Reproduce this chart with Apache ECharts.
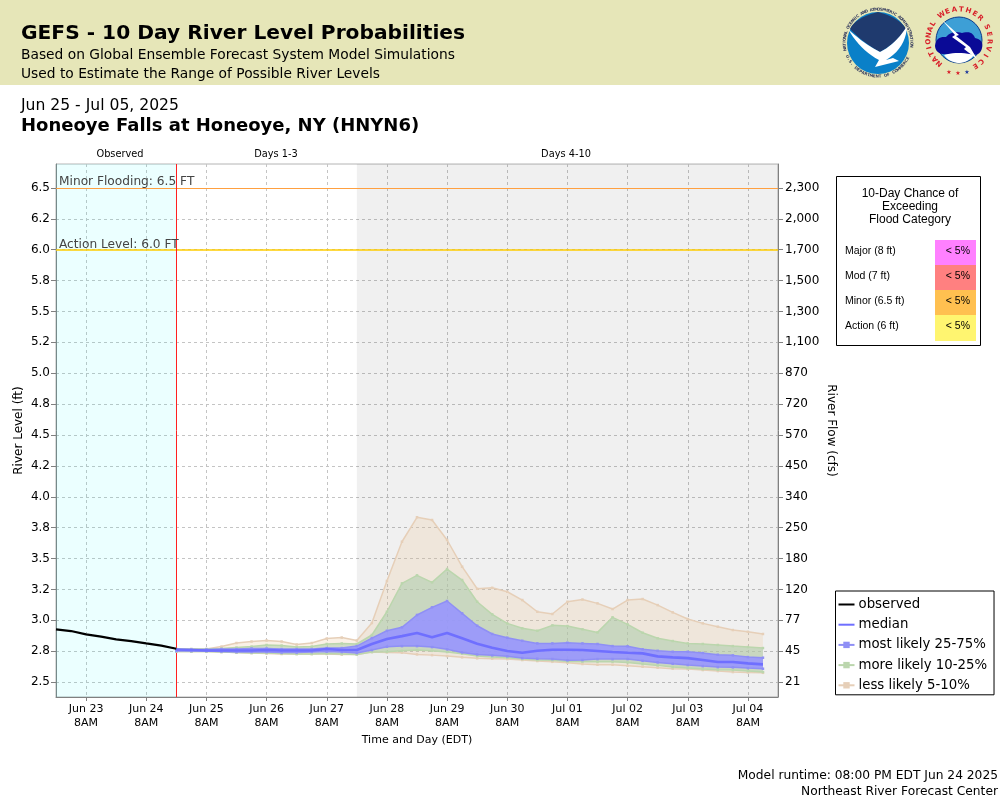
<![CDATA[<!DOCTYPE html>
<html>
<head>
<meta charset="utf-8">
<style>html,body{margin:0;padding:0;background:#fff}#c{width:1000px;height:800px}</style>
<script src="https://cdn.jsdelivr.net/npm/echarts@6/dist/echarts.min.js"></script>
</head>
<body>
<div id="c"></div>
<script>
// ---------- data (feet), read off the picture ----------
const levelTicks = [2.5,2.75,3,3.25,3.5,3.75,4,4.25,4.5,4.75,5,5.25,5.5,5.75,6,6.25,6.5];
const levelLabels = ["2.5","2.8","3.0","3.2","3.5","3.8","4.0","4.2","4.5","4.8","5.0","5.2","5.5","5.8","6.0","6.2","6.5"];
const flowLabels = ["21","45","77","120","180","250","340","450","570","720","870","1,100","1,300","1,500","1,700","2,000","2,300"];
const dayLabels = ["Jun 23","Jun 24","Jun 25","Jun 26","Jun 27","Jun 28","Jun 29","Jun 30","Jul 01","Jul 02","Jul 03","Jul 04"];
const observed = [2.927,2.913,2.886,2.868,2.846,2.832,2.813,2.795,2.770];
const median = [2.763,2.759,2.755,2.755,2.755,2.755,2.759,2.755,2.755,2.755,2.767,2.759,2.759,2.808,2.848,2.872,2.897,2.862,2.897,2.854,2.810,2.778,2.751,2.737,2.753,2.761,2.761,2.759,2.751,2.743,2.737,2.732,2.708,2.700,2.694,2.678,2.662,2.662,2.651,2.643];
const p75 = [2.763,2.763,2.763,2.767,2.767,2.771,2.771,2.767,2.767,2.767,2.775,2.775,2.791,2.856,2.915,2.943,3.043,3.105,3.156,3.056,2.956,2.889,2.859,2.834,2.813,2.813,2.818,2.813,2.808,2.791,2.789,2.765,2.753,2.745,2.745,2.735,2.721,2.716,2.702,2.697];
const p25 = [2.751,2.751,2.751,2.747,2.743,2.743,2.743,2.739,2.739,2.743,2.747,2.743,2.735,2.759,2.786,2.791,2.791,2.783,2.765,2.740,2.724,2.716,2.708,2.694,2.689,2.686,2.676,2.678,2.686,2.686,2.686,2.672,2.659,2.648,2.638,2.629,2.621,2.619,2.613,2.608];
const p90 = [2.767,2.767,2.767,2.771,2.779,2.787,2.800,2.795,2.783,2.787,2.808,2.812,2.808,2.881,3.069,3.299,3.364,3.307,3.415,3.326,3.150,3.048,2.975,2.935,2.915,2.959,2.953,2.927,2.902,3.024,2.967,2.899,2.854,2.832,2.813,2.808,2.800,2.791,2.783,2.775];
const p10 = [2.747,2.747,2.747,2.743,2.739,2.735,2.735,2.731,2.727,2.727,2.731,2.727,2.723,2.743,2.745,2.753,2.759,2.753,2.743,2.729,2.710,2.702,2.697,2.686,2.678,2.676,2.667,2.664,2.664,2.664,2.659,2.646,2.635,2.621,2.613,2.605,2.599,2.597,2.589,2.581];
const p95 = [2.767,2.767,2.767,2.787,2.816,2.828,2.836,2.828,2.804,2.816,2.852,2.860,2.836,2.978,3.318,3.636,3.834,3.812,3.650,3.434,3.255,3.263,3.231,3.164,3.069,3.051,3.150,3.168,3.137,3.091,3.164,3.172,3.123,3.064,3.010,2.975,2.948,2.921,2.907,2.889];
const p5 = [2.747,2.747,2.747,2.743,2.739,2.735,2.731,2.727,2.727,2.727,2.727,2.723,2.723,2.743,2.740,2.737,2.724,2.718,2.710,2.700,2.692,2.689,2.686,2.678,2.670,2.664,2.656,2.646,2.640,2.640,2.632,2.624,2.616,2.608,2.605,2.597,2.589,2.581,2.578,2.575];
const floodNames = ["Major (8 ft)","Mod (7 ft)","Minor (6.5 ft)","Action (6 ft)"];
const floodChance = ["< 5%","< 5%","< 5%","< 5%"];
const floodColors = ["#ff80ff","#ff8080","#ffc050","#fff570"];
const minorLevel = 6.5, actionLevel = 6.0;

// ---------- time helpers ----------
const H = 3600e3;
const tStart = new Date(2025,5,22,20).getTime();
const tNow = new Date(2025,5,24,20).getTime();
const tGray = new Date(2025,5,27,20).getTime();
const tEnd = new Date(2025,6,4,20).getTime();
const tFirstTick = new Date(2025,5,23,8).getTime();
const obsT = observed.map((_,i)=>tStart+i*6*H);
const fcT = median.map((_,i)=>tNow+i*6*H);
const xTicks = dayLabels.map((_,i)=>tFirstTick+i*24*H);
const pts = a => a.map((v,i)=>[fcT[i],v]);

const FONT = 'DejaVu Sans';
const edge = (name,vals,color,z)=>({type:'line',name,data:pts(vals),symbol:'rect',symbolSize:2.5,showSymbol:true,
  showAllSymbol:true,z,lineStyle:{color,width:1.5},itemStyle:{color},emphasis:{disabled:true},animation:false});
const fill = (name,lo,hi,color,z)=>({type:'custom',name,z,silent:true,clip:true,
  data:lo.map((v,i)=>[fcT[i],v,hi[i]]),encode:{x:0,y:[1,2]},
  renderItem(params,api){
    if(params.dataIndex!==0) return null;
    const up=hi.map((v,i)=>api.coord([fcT[i],v]));
    const dn=lo.map((v,i)=>api.coord([fcT[i],v])).reverse();
    return {type:'polygon',shape:{points:up.concat(dn)},style:{fill:color,stroke:null}};
  }});

const L = {less:'less likely 5-10%',more:'more likely 10-25%',most:'most likely 25-75%'};
const C = {less:'#e6cfb8',more:'#bbd6ad',most:'#8f8ff5'};

const series = [
  {type:'line',name:'bg',data:[],silent:true,z:1,
   markArea:{silent:true,itemStyle:{color:'rgba(0,255,255,0.08)'},data:[[{xAxis:tStart},{xAxis:tNow}]]}},
  {type:'line',name:'bg2',data:[],silent:true,z:1,
   markArea:{silent:true,itemStyle:{color:'rgba(0,0,0,0.06)'},data:[[{xAxis:tGray},{xAxis:tEnd}]]}},
  fill('fill 5-95',p5,p95,'rgba(237,207,173,0.3)',3),
  fill('fill 10-90',p10,p90,'rgba(163,200,166,0.5)',4),
  fill('fill 25-75',p25,p75,'rgba(150,148,255,0.88)',5),
  edge(L.less,p95,C.less,6), edge(L.less,p5,C.less,6),
  edge(L.more,p90,C.more,7), edge(L.more,p10,C.more,7),
  edge(L.most,p75,C.most,8), edge(L.most,p25,C.most,8),
  {type:'line',name:'median',data:pts(median),symbol:'none',z:9,lineStyle:{color:'#6f6fff',width:2.6},itemStyle:{color:'#6f6fff'}},
  {type:'line',name:'observed',data:observed.map((v,i)=>[obsT[i],v]),symbol:'none',z:10,lineStyle:{color:'#000',width:2.2},itemStyle:{color:'#000'}},
  {type:'line',name:'thresholds',data:[],z:11,silent:true,
   markLine:{silent:true,symbol:'none',animation:false,data:[
    {yAxis:minorLevel,lineStyle:{color:'#ffa040',width:1,type:'solid'},
     label:{formatter:'Minor Flooding: 6.5 FT',position:'insideStartTop',color:'#444',fontFamily:FONT,fontSize:12.2,distance:[3,0]}},
    {yAxis:actionLevel,lineStyle:{color:'#ffcc00',width:1.5,type:'solid'},
     label:{formatter:'Action Level: 6.0 FT',position:'insideStartTop',color:'#444',fontFamily:FONT,fontSize:12.2,distance:[3,-1]}},
    {xAxis:tNow,lineStyle:{color:'#ff2020',width:1,type:'solid'},label:{show:false}}
   ]}}
];

// ---------- page furniture ----------
const T=(x,y,text,o={})=>({type:'text',x,y,silent:true,z:50,style:Object.assign({text,fill:'#000',font:`${o.w||'normal'} ${o.s||12}px "${o.f||FONT}"`,
  textAlign:o.a||'left',textVerticalAlign:'middle'},o.st||{})});
const ring=(cx,cy,r,text,a0,a1,font,color,flip)=>{
  const out=[];const n=text.length;
  for(let i=0;i<n;i++){
    const a=a0+(a1-a0)*(n>1?i/(n-1):0);
    const rad=a*Math.PI/180;
    out.push({type:'text',x:cx+r*Math.cos(rad),y:cy+r*Math.sin(rad),rotation:flip?-(rad-Math.PI/2):-(rad+Math.PI/2),silent:true,z:55,
      style:{text:text[i],font,fill:color,textAlign:'center',textVerticalAlign:'middle'}});
  }
  return out;
};
// quadratic outline helper for the logos: [start, [ctrl,end], [ctrl,end] ...]
const curve=(start,segs)=>{const out=[start];let p=start;
  segs.forEach(s=>{const c=s.length===2?s[0]:null,e=s.length===2?s[1]:s[0];
    if(!c){out.push(e);p=e;return;}
    for(let k=1;k<=10;k++){const t=k/10,u=1-t;out.push([u*u*p[0]+2*u*t*c[0]+t*t*e[0],u*u*p[1]+2*u*t*c[1]+t*t*e[1]]);}
    p=e;});
  return out;};
const shape=(points,fillC,z)=>({type:'polygon',shape:{points},style:{fill:fillC},z,silent:true});
const logoN={x:878,y:43}, logoW={x:959,y:40};
const graphics=[
  {type:'rect',shape:{x:0,y:0,width:1000,height:85},style:{fill:'#e6e6b8'},z:40,silent:true},
  T(21,34,'GEFS - 10 Day River Level Probabilities',{s:20.2,w:'bold'}),
  T(21,55,'Based on Global Ensemble Forecast System Model Simulations',{s:13.8}),
  T(21,74,'Used to Estimate the Range of Possible River Levels',{s:13.8}),
  T(21,105.5,'Jun 25 - Jul 05, 2025',{s:15.6}),
  T(21,126.5,'Honeoye Falls at Honeoye, NY (HNYN6)',{s:18,w:'bold'}),
  T(120,154,'Observed',{s:9.8,a:'center'}),
  T(276,154,'Days 1-3',{s:9.8,a:'center'}),
  T(566,154,'Days 4-10',{s:9.8,a:'center'}),
  T(998,776,'Model runtime: 08:00 PM EDT Jun 24 2025',{s:12.25,a:'right'}),
  T(998,792,'Northeast River Forecast Center',{s:12.25,a:'right'}),
  // flood table
  {type:'rect',shape:{x:836.5,y:176.5,width:144,height:169},style:{fill:'#fff',stroke:'#000',lineWidth:1},z:45,silent:true},
  T(910,194,'10-Day Chance of',{s:12,f:'Liberation Sans',a:'center'}),
  T(910,207,'Exceeding',{s:12,f:'Liberation Sans',a:'center'}),
  T(910,220,'Flood Category',{s:12,f:'Liberation Sans',a:'center'}),
  // NOAA logo
  {type:'circle',shape:{cx:logoN.x,cy:logoN.y,r:31},style:{fill:'#0a80c8'},z:50,silent:true},
  shape(curve([850,29],[[[855,18],[878,12]],[[900,18],[906,29]],[[895,44],[880,52]],[[862,42],[850,29]]]),'#1f3a6e',51),
  shape(curve([848,29],[[[864,44],[880,52]],[[896,44],[907,26]],[[906,48],[886,60]],[[893,58]],[[899,61]],[[875,67]],[[879,60]],[[860,50],[848,29]]]),'#fff',52),
  T(878,26,'NOAA',{s:9,w:'bold',a:'center',st:{fill:'#fff'}}),
  ...ring(logoN.x,logoN.y,33.5,'NATIONAL OCEANIC AND ATMOSPHERIC ADMINISTRATION',-191,5,'bold 4px "DejaVu Sans"','#3a4060',false),
  ...ring(logoN.x,logoN.y,33.5,'U.S. DEPARTMENT OF COMMERCE',156,27,'bold 4px "DejaVu Sans"','#3a4060',true),
  // NWS logo
  {type:'circle',shape:{cx:logoW.x,cy:logoW.y,r:23},style:{fill:'#3d9fd6',stroke:'#0b3a8c',lineWidth:1},z:50,silent:true},
  shape(curve([935,46],[[[936,36],[946,37]],[[952,30],[962,33]],[[972,30],[975,38]],[[984,40],[982,48]],[[980,57],[970,54]],[[960,58],[950,54]],[[936,56],[935,46]]]),'#0a0a96',51),
  shape(curve([944,55],[[[958,51],[974,55]],[[968,63],[958,63]],[[949,62],[944,55]]]),'#fff',51),
  shape([[942,20],[959,35],[956,36],[970,47],[977,59],[964,49],[966,47],[952,37],[955,35]],'#fff',52),
  ...ring(logoW.x,logoW.y,30.5,'NATIONAL',-230,-148,'bold 7px "DejaVu Sans"','#d8202a',false),
  ...ring(logoW.x,logoW.y,30.5,'WEATHER',-125,-46,'bold 7px "DejaVu Sans"','#d8202a',false),
  ...ring(logoW.x,logoW.y,30.5,'SERVICE',-25,58,'bold 7px "DejaVu Sans"','#d8202a',false),
  T(949,72,'★',{s:6,a:'center',st:{fill:'#d8202a'}}),T(958,73,'★',{s:6,a:'center',st:{fill:'#d8202a'}}),T(967,72,'★',{s:6,a:'center',st:{fill:'#1f3a9c'}})
];
floodNames.forEach((n,i)=>{
  const top=240+i*25;
  graphics.push({type:'rect',shape:{x:935,y:top,width:41,height:i===3?26:25},style:{fill:floodColors[i]},z:46,silent:true});
  graphics.push(T(845,top+11,n,{s:10.5,f:'Liberation Sans'}));
  graphics.push(T(970,top+11,floodChance[i],{s:10.5,f:'Liberation Sans',a:'right'}));
});

const yMin=2.379,yMax=6.694;
const lbl=(arr,v)=>{const i=levelTicks.indexOf(v);return i<0?'':arr[i];};
const gridLine={show:true,lineStyle:{color:'#c4c4c4',type:[3,3],width:1}};
const noMark={color:'transparent',opacity:0,borderWidth:0};
const chart=echarts.init(document.getElementById('c'),null,{renderer:'canvas'});
chart.setOption({
  animation:false,backgroundColor:'#fff',
  textStyle:{fontFamily:FONT},
  grid:{left:56,right:222,top:164,bottom:103,outerBoundsMode:'none',containLabel:false,show:true,borderColor:'#b4b4b4',borderWidth:1,backgroundColor:'transparent'},
  xAxis:{type:'value',scale:true,min:tStart,max:tEnd,name:'Time and Day (EDT)',nameLocation:'middle',nameGap:38,nameMoveOverlap:false,
    nameTextStyle:{color:'#000',fontSize:11,fontFamily:FONT},
    axisLine:{lineStyle:{color:'#808080',width:1}},
    axisTick:{customValues:xTicks,length:4,lineStyle:{color:'#808080'}},
    axisLabel:{customValues:xTicks,color:'#000',fontSize:11,fontFamily:FONT,lineHeight:14,margin:5,hideOverlap:false,
      formatter:v=>dayLabels[Math.round((v-tFirstTick)/(24*H))]+'\n8AM'},
    splitLine:gridLine},
  yAxis:[
   {type:'value',min:yMin,max:yMax,name:'River Level (ft)',nameLocation:'middle',nameGap:31,nameMoveOverlap:false,
    nameTextStyle:{color:'#000',fontSize:12,fontFamily:FONT},
    axisLine:{show:true,lineStyle:{color:'#808080'}},
    axisTick:{show:true,customValues:levelTicks,length:5,lineStyle:{color:'#808080'}},
    axisLabel:{customValues:levelTicks,color:'#000',fontSize:12,fontFamily:FONT,margin:6,padding:[4,0,0,0],formatter:v=>lbl(levelLabels,v)},
    splitLine:gridLine},
   {type:'value',min:yMin,max:yMax,position:'right',name:'River Flow (cfs)',nameLocation:'middle',nameGap:47,nameRotate:-90,nameMoveOverlap:false,
    nameTextStyle:{color:'#000',fontSize:12,fontFamily:FONT},
    axisLine:{show:true,lineStyle:{color:'#808080'}},
    axisTick:{show:true,customValues:levelTicks,length:5,lineStyle:{color:'#808080'}},
    axisLabel:{customValues:levelTicks,color:'#000',fontSize:12,fontFamily:FONT,margin:7,padding:[4,0,0,0],formatter:v=>lbl(flowLabels,v)},
    splitLine:{show:false}}
  ],
  legend:{show:true,left:835.5,top:591,orient:'vertical',align:'left',backgroundColor:'#fff',borderColor:'#000',borderWidth:1,
    padding:[5,7,1,2],itemGap:3.2,itemWidth:16,itemHeight:8,selectedMode:false,z:60,
    textStyle:{color:'#000',fontSize:13.3,fontFamily:FONT,padding:[0,0,0,-1],lineHeight:17},
    data:[{name:'observed',itemStyle:noMark},{name:'median',itemStyle:noMark},L.most,L.more,L.less]},
  tooltip:{show:false},
  graphic:{elements:graphics},
  series
});
</script>
</body>
</html>
]]>
